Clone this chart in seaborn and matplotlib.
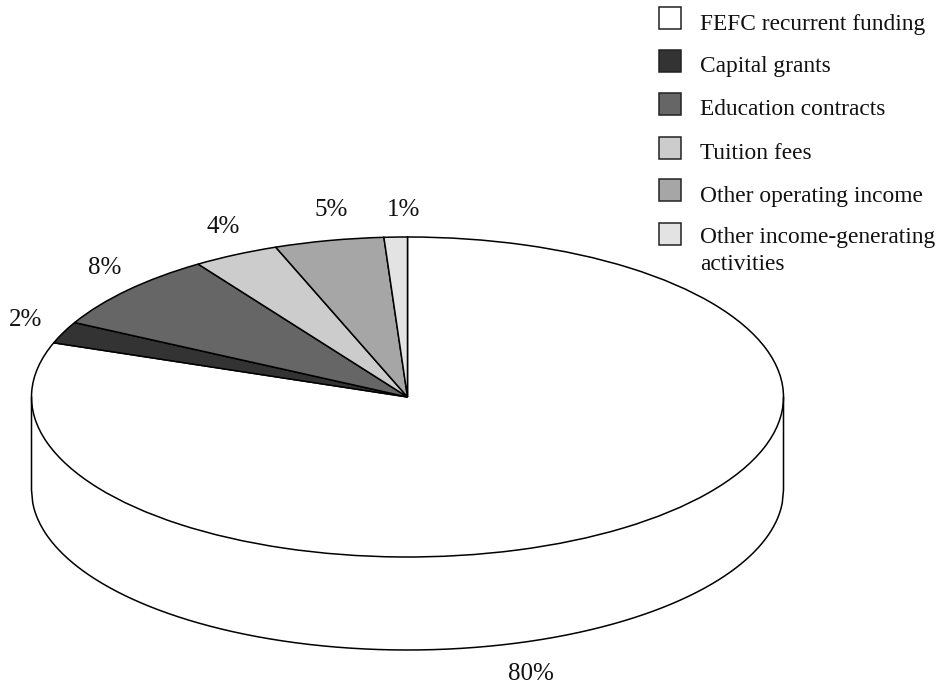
import numpy as np
import matplotlib
matplotlib.use("Agg")
import matplotlib.pyplot as plt
from matplotlib.patches import Rectangle
import seaborn as sns

categories = ["FEFC recurrent funding", "Capital grants", "Education contracts",
              "Tuition fees", "Other operating income",
              "Other income-generating\nactivities"]
values = [80.5, 2.2, 7.9, 3.7, 4.7, 1.0]
colors = ["#ffffff", "#333333", "#666666", "#cccccc", "#a6a6a6", "#e3e3e3"]

sns.set_theme(style="white")
plt.rcParams["font.family"] = ["Liberation Serif", "DejaVu Serif"]

W, H = 942, 690
cx, cy, rx, ry, depth = 407.5, 397, 376, 160, 93
fig = plt.figure(figsize=(W / 100, H / 100), dpi=100, facecolor="white")
ax = fig.add_axes([0, 0, 1, 1])

ax.pie(values, colors=colors, startangle=90, counterclock=False,
       wedgeprops=dict(edgecolor="black", linewidth=1.1), normalize=True)
ax.set_aspect("auto")
ax.set_xlim(-cx / rx, (W - cx) / rx)
ax.set_ylim((cy - H) / ry, cy / ry)

# cylinder side of the pie
t = np.linspace(-1, 1, 600)
low = -np.sqrt(1 - t ** 2)
ax.fill_between(t, low, low - depth / ry, color="white", zorder=0)
ax.plot(np.r_[-1, t, 1], np.r_[0, low - depth / ry, 0], color="black", lw=1.1, zorder=1)

# percentage labels, placed in figure pixels
label_px = [(531, 674), (26, 320), (105, 268), (223, 227), (331, 210), (404, 210)]
for v, (px, py) in zip(values, label_px):
    fig.text(px / W, 1 - py / H, f"{v:.0f}%", ha="center", va="center",
             fontsize=18, color="#111111")

# legend, laid out in figure pixels so the swatch sits on the first line of a wrapped label
swatch_y = [18, 61, 104, 148, 190, 234]
text_top_y = [14, 56, 99, 143, 186, 227]
for name, c, sy, ty in zip(categories, colors, swatch_y, text_top_y):
    fig.add_artist(Rectangle((659 / W, 1 - (sy + 11) / H), 22 / W, 22 / H,
                             transform=fig.transFigure, facecolor=c,
                             edgecolor="#222222", linewidth=1.1))
    fig.text(700 / W, 1 - ty / H, name, ha="left", va="top",
             fontsize=16.8, color="#111111", linespacing=1.4)

fig.savefig("out.png", dpi=100)
